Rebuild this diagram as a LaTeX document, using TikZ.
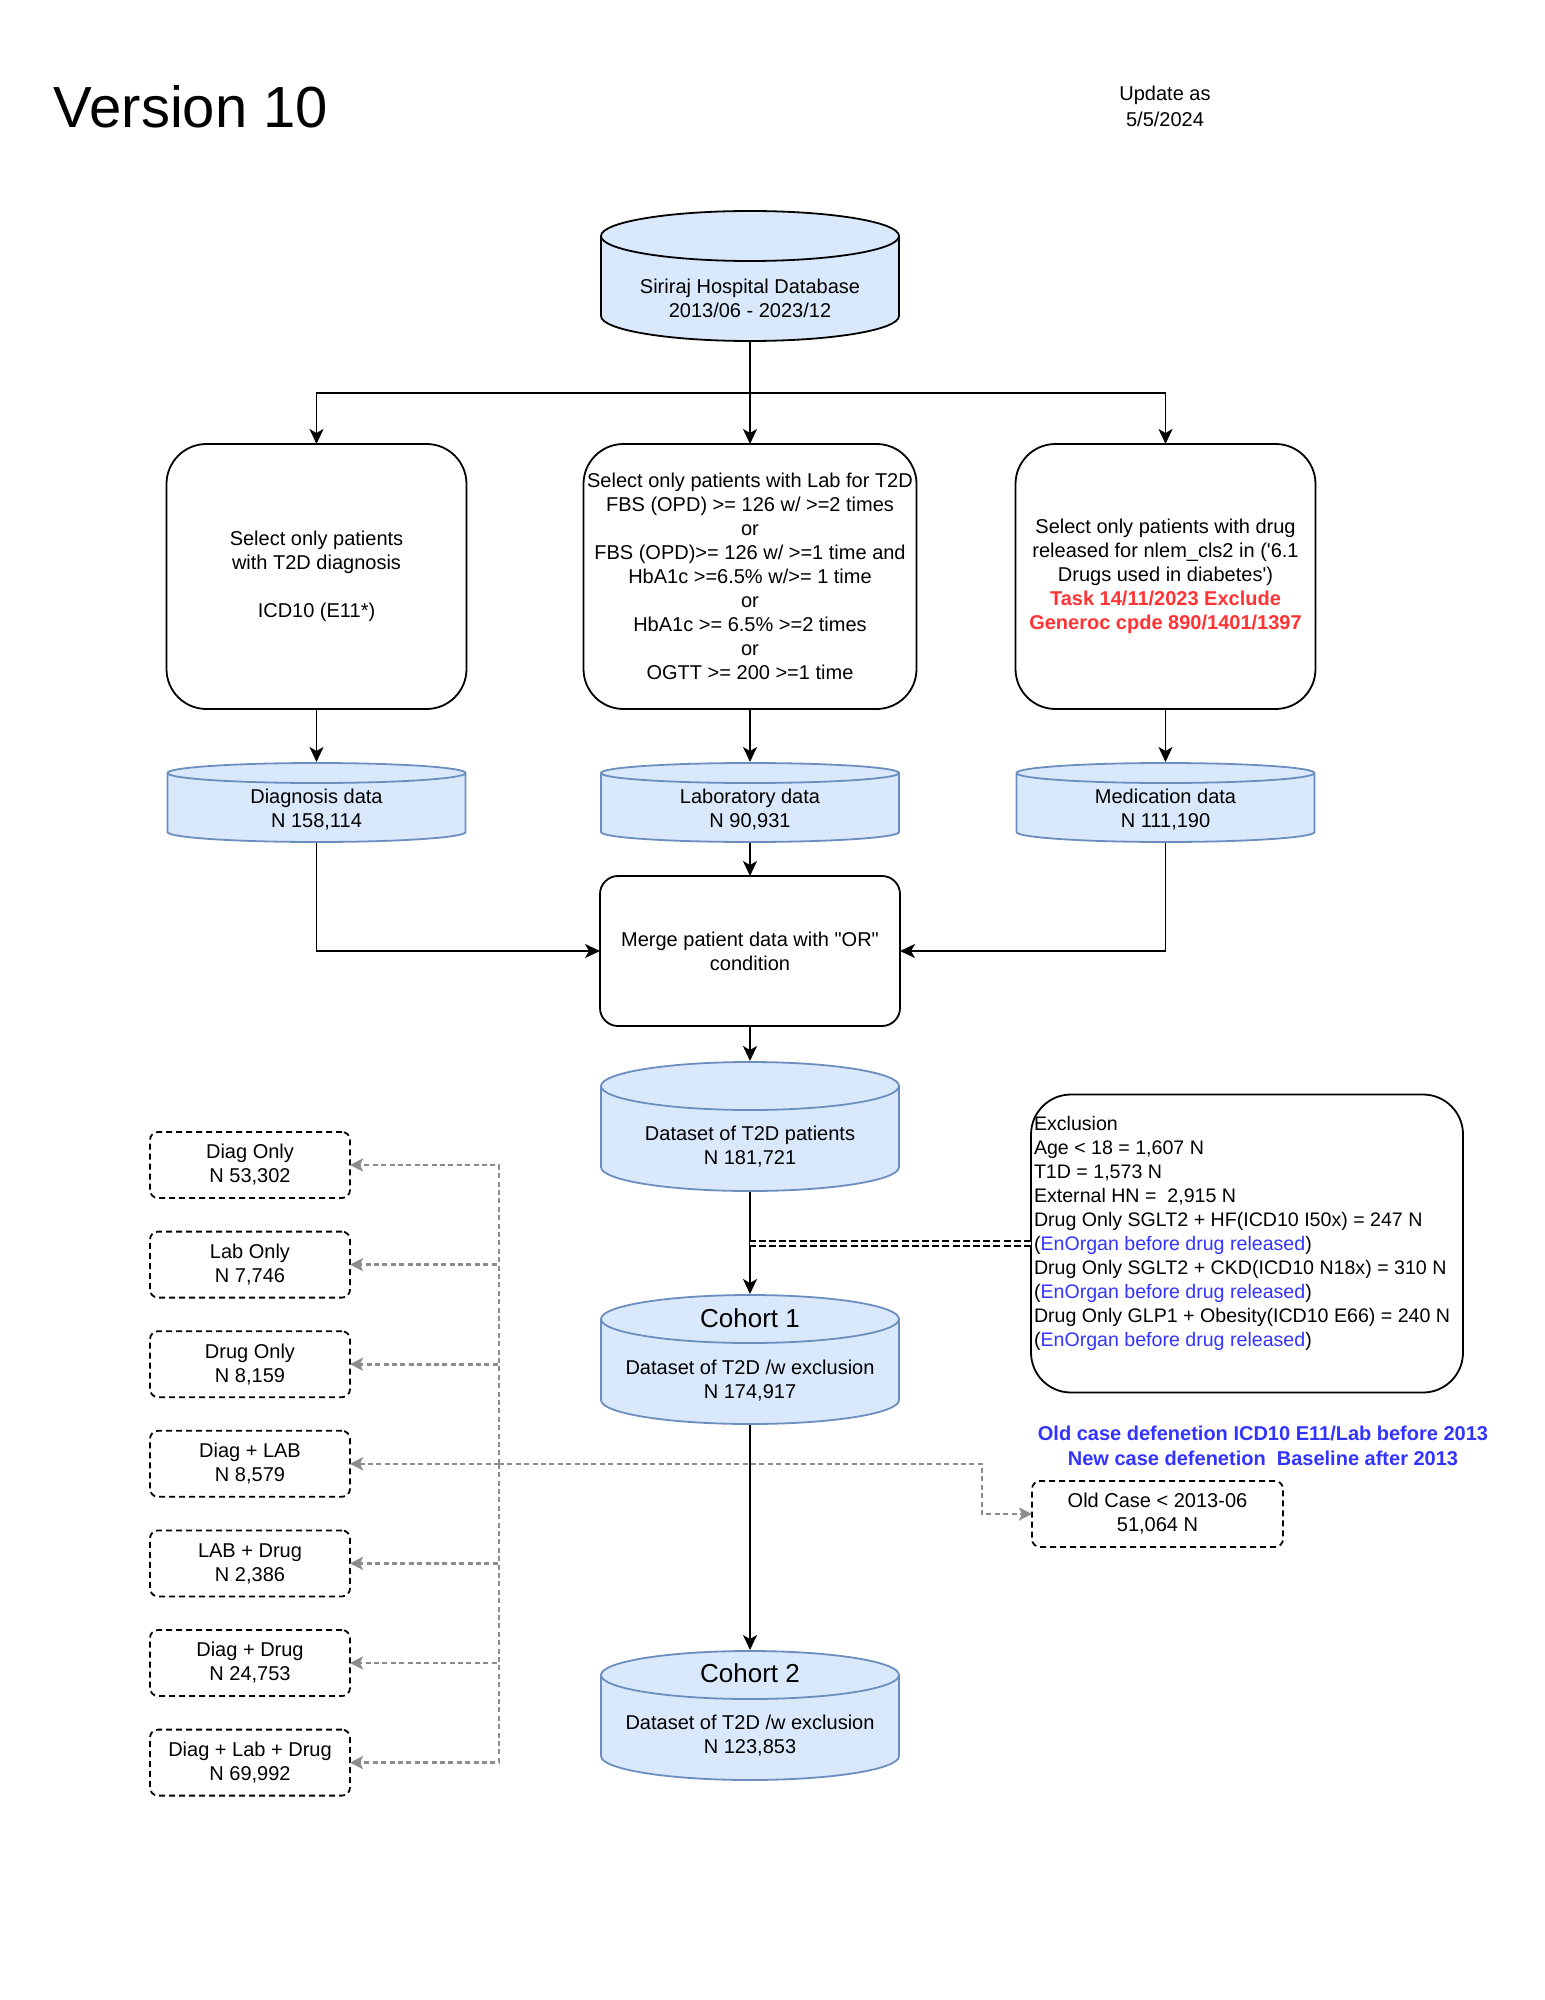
\documentclass[tikz,border=0pt]{standalone}
\usepackage{fontspec}
\setmainfont{Liberation Sans}
\usepackage{xcolor}
\usepackage{tikz}
\usetikzlibrary{arrows.meta,positioning,calc}
\definecolor{dbfill}{HTML}{DAE8FC}
\definecolor{dbline}{HTML}{6C8EBF}
\definecolor{notered}{HTML}{FF3333}
\definecolor{noteblue}{HTML}{3333FF}
\definecolor{linkgray}{RGB}{140,140,140}

% cylinder drawn inside the node box (cap half-height, border colour)
\tikzset{
  dbcyl/.style 2 args={fill=white, path picture={
    \path[fill=dbfill, draw=#2, line width=0.9pt]
      let \p1=([xshift=0.5pt,yshift=-0.5pt]path picture bounding box.north west),
          \p2=([xshift=-0.5pt,yshift=0.5pt]path picture bounding box.south east),
          \n1={(\x2-\x1)/2} in
      (\x1,\y1-#1) -- (\x1,\y2+#1)
        arc[start angle=180, end angle=360, x radius=\n1, y radius=#1]
        -- (\x2,\y1-#1)
        arc[start angle=0, end angle=180, x radius=\n1, y radius=#1] -- cycle
      (\x1,\y1-#1) arc[start angle=180, end angle=360, x radius=\n1, y radius=#1];
  }},
}

\begin{document}
\begin{tikzpicture}[
    x=0.5pt, y=-0.5pt,
    font=\fontsize{10}{12}\selectfont,
    every node/.append style={outer sep=0pt},
    srcdb/.style={dbcyl={12.5pt}{black}, minimum width=150pt, minimum height=66pt},
    datadb/.style={dbcyl={5pt}{dbline}, minimum width=150pt, minimum height=40.5pt},
    cohortdb/.style={dbcyl={12pt}{dbline}, minimum width=150pt, minimum height=65.5pt},
    cyltext/.style={align=center, inner sep=1pt},
    selbox/.style={rectangle, draw, line width=0.9pt, rounded corners=20pt, inner xsep=1pt, minimum width=150pt, minimum height=132.5pt, align=center},
    mergebox/.style={rectangle, draw, line width=0.9pt, rounded corners=9pt, minimum width=150pt, minimum height=75pt, align=center},
    groupbox/.style={rectangle, draw, line width=0.9pt, dash pattern=on 3pt off 2pt, rounded corners=4pt, minimum width=100pt, minimum height=33pt, align=center},
    arrow/.style={-{Stealth[length=7.5pt, width=7pt, inset=2pt]}, line width=0.9pt},
    graylink/.style={draw=linkgray, line width=1.3pt, dash pattern=on 2.5pt off 1.7pt, -{Stealth[length=6.5pt, width=6.5pt, inset=1.5pt]}},
    excllink/.style={draw=black, line width=1pt, double=white, double distance=1.6pt, dash pattern=on 3.5pt off 1.6pt}
]
    \fill[white] (0,0) rectangle (1545,2000);
    \useasboundingbox (0,0) rectangle (1545,2000);

    % Header
    \node[anchor=west, inner sep=0pt, font=\fontsize{29}{34}\selectfont] (title) at (54,107) {Version 10};
    \node[align=center, font=\fontsize{10}{13}\selectfont] (update) at (1165,106) {Update as\\5/5/2024};

    % Source
    \node[srcdb] (db) at (750,276) {};
    \node[cyltext] (db-text) at ([yshift=-11pt]db.center) {Siriraj Hospital Database\\2013/06 - 2023/12};

    % Selection
    \node[selbox, minimum width=166.5pt, below=51pt of db] (labsel) {Select only patients with Lab for T2D\\FBS (OPD) >= 126 w/ >=2 times\\or\\FBS (OPD)>= 126 w/ >=1 time and\\HbA1c >=6.5\% w/>= 1 time\\or\\HbA1c >= 6.5\% >=2 times\\or\\OGTT >= 200 >=1 time};
    \node[selbox, left=58.5pt of labsel] (diagsel) {Select only patients\\with T2D diagnosis\\[12pt]ICD10 (E11*)};
    \node[selbox, right=49.5pt of labsel] (medsel) {Select only patients with drug\\released for nlem\_cls2 in (\textquotesingle 6.1\\Drugs used in diabetes\textquotesingle)\\\textcolor{notered}{\bfseries Task 14/11/2023 Exclude}\\\textcolor{notered}{\bfseries Generoc cpde 890/1401/1397}};

    % Data sets
    \node[datadb, below=26.5pt of diagsel] (diagdata) {};
    \node[cyltext] (diagdata-text) at ([yshift=-3.5pt]diagdata.center) {Diagnosis data\\N 158,114};
    \node[datadb, below=26.5pt of labsel] (labdata) {};
    \node[cyltext] (labdata-text) at ([yshift=-3.5pt]labdata.center) {Laboratory data\\N 90,931};
    \node[datadb, below=26.5pt of medsel] (meddata) {};
    \node[cyltext] (meddata-text) at ([yshift=-3.5pt]meddata.center) {Medication data\\N 111,190};

    % Merge
    \node[mergebox, below=16.5pt of labdata] (merge) {Merge patient data with \textquotedbl OR\textquotedbl\\condition};

    % Cohorts
    \node[cohortdb, below=17.5pt of merge] (t2d) {};
    \node[cyltext] (t2d-text) at ([yshift=-10pt]t2d.center) {Dataset of T2D patients\\N 181,721};
    \node[cohortdb, below=51pt of t2d] (c1) {};
    \node[font=\fontsize{13}{15}\selectfont, inner sep=0pt] (c1-title) at ([yshift=-12pt]c1.north) {Cohort 1};
    \node[cyltext] (c1-text) at ([yshift=-10.5pt]c1.center) {Dataset of T2D /w exclusion\\N 174,917};
    \node[cohortdb, below=112.5pt of c1] (c2) {};
    \node[font=\fontsize{13}{15}\selectfont, inner sep=0pt] (c2-title) at ([yshift=-11.5pt]c2.north) {Cohort 2};
    \node[cyltext] (c2-text) at ([yshift=-10.25pt]c2.center) {Dataset of T2D /w exclusion\\N 123,853};

    % Exclusion
    \node[rectangle, draw, line width=0.9pt, rounded corners=20pt, minimum width=216pt, minimum height=149pt] (excl) at (1247,1243.5) {};
    \node[anchor=north west, inner sep=0pt, align=left, font=\fontsize{9.8}{12}\selectfont] (excl-text) at ([xshift=1.5pt,yshift=-11pt]excl.north west) {Exclusion\\Age < 18 = 1,607 N\\T1D = 1,573 N\\External HN = \ 2,915 N\\Drug Only SGLT2 + HF(ICD10 I50x) = 247 N\\(\textcolor{noteblue}{EnOrgan before drug released})\\Drug Only SGLT2 + CKD(ICD10 N18x) = 310 N\\(\textcolor{noteblue}{EnOrgan before drug released})\\Drug Only GLP1 + Obesity(ICD10 E66) = 240 N\\(\textcolor{noteblue}{EnOrgan before drug released})};

    % Old cases
    \node[align=center, text=noteblue, font=\fontsize{10}{12.5}\bfseries] (defn) at (1263,1445.5) {Old case defenetion ICD10 E11/Lab before 2013\\New case defenetion \ Baseline after 2013};
    \node[groupbox, minimum width=125.5pt] (old) at (1157.5,1514) {Old Case < 2013-06\\51,064 N};

    % Groups
    \node[groupbox] (diag-only) at (250,1165) {Diag Only\\N 53,302};
    \node[groupbox, below=16.8pt of diag-only] (lab-only) {Lab Only\\N 7,746};
    \node[groupbox, below=16.8pt of lab-only] (drug-only) {Drug Only\\N 8,159};
    \node[groupbox, below=16.8pt of drug-only] (diag-lab) {Diag + LAB\\N 8,579};
    \node[groupbox, below=16.8pt of diag-lab] (lab-drug) {LAB + Drug\\N 2,386};
    \node[groupbox, below=16.8pt of lab-drug] (diag-drug) {Diag + Drug\\N 24,753};
    \node[groupbox, below=16.8pt of diag-drug] (all-three) {Diag + Lab + Drug\\N 69,992};

    % Arrows
    \coordinate (fork) at ([yshift=-25.5pt]db.south);
    \draw[arrow] (db.south) -- (labsel.north);
    \draw[arrow] (fork) -| (diagsel.north);
    \draw[arrow] (fork) -| (medsel.north);
    \draw[arrow] (diagsel) -- (diagdata);
    \draw[arrow] (labsel) -- (labdata);
    \draw[arrow] (medsel) -- (meddata);
    \draw[arrow] (labdata) -- (merge);
    \draw[arrow] (diagdata.south) |- (merge.west);
    \draw[arrow] (meddata.south) |- (merge.east);
    \draw[arrow] (merge) -- (t2d);
    \draw[arrow] (t2d) -- (c1);
    \draw[arrow] (c1) -- (c2);
    \draw[excllink] (excl.west) -- (excl.west -| t2d.south);

    % Group links
    \coordinate (hub) at ([xshift=74.5pt]diag-lab.east);
    \draw[graylink] (hub) |- (diag-only.east);
    \draw[graylink] (hub) |- (lab-only.east);
    \draw[graylink] (hub) |- (drug-only.east);
    \draw[graylink] (hub) -- (diag-lab.east);
    \draw[graylink] (hub) |- (lab-drug.east);
    \draw[graylink] (hub) |- (diag-drug.east);
    \draw[graylink] (hub) |- (all-three.east);
    \draw[graylink] (hub) -| ([xshift=-25pt]old.west) -- (old.west);
\end{tikzpicture}
\end{document}
